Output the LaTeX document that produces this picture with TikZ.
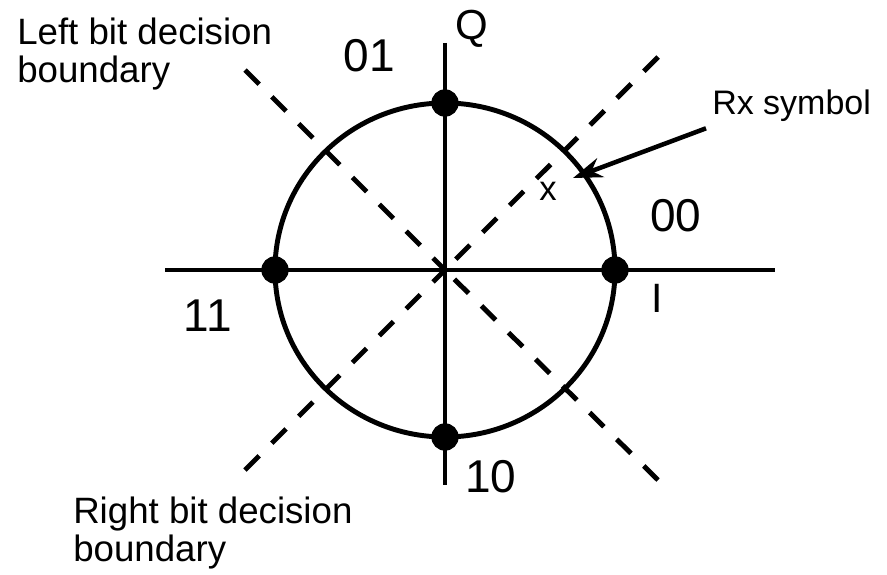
\documentclass[tikz,border=0pt]{standalone}
\usepackage{fontspec}
\setmainfont{Liberation Sans}
\usetikzlibrary{arrows.meta}
\begin{document}
\begin{tikzpicture}[x=0.75pt,y=-0.75pt,
  axis/.style={line width=3.7pt},
  bound/.style={line width=3.7pt, dash pattern=on 15pt off 13.5pt},
  dot/.style={circle, fill=black, inner sep=0pt, minimum size=20.5pt},
  lbl/.style={inner sep=0pt, font=\fontsize{34.5}{40}\selectfont},
  note/.style={inner sep=0pt, align=left, font=\fontsize{27.5}{28.5}\selectfont},
  arr/.style={line width=3.4pt, -{Stealth[length=22pt,width=15pt]}}]
\useasboundingbox (0,0) rectangle (887,574);
\coordinate (O) at (445,270);
\coordinate (Hl) at (165,270);
\coordinate (Hr) at (775,270);
\coordinate (Vt) at (445,43);
\coordinate (Vb) at (445,485);
\coordinate (TR) at (658,57);
\coordinate (TL) at (245,70);
\coordinate (BL) at (245,470);
\coordinate (BR) at (658,480);
% axes and circle
\draw[axis] (Hl) -- (Hr);
\draw[axis] (Vt) -- (Vb);
\draw[axis] (O) ellipse [x radius=127.5pt, y radius=125.25pt];
% decision boundaries
\draw[bound] (TR) -- (O);
\draw[bound] (TL) -- (O);
\draw[bound] (BL) -- (O);
\draw[bound] (BR) -- (O);
% constellation points
\node[dot] (p01) at (445,103) {};
\node[dot] (p10) at (445,437) {};
\node[dot] (p11) at (275,270) {};
\node[dot] (p00) at (615,270) {};
% labels
\node[lbl, anchor=base east] (l01) at (395,72) {01};
\node[lbl, anchor=base west] (l00) at (650,231) {00};
\node[lbl, anchor=base east] (l11) at (232,331) {11};
\node[lbl, anchor=base west] (l10) at (465,492) {10};
\node[inner sep=0pt, anchor=base west, font=\fontsize{31.5}{36}\selectfont] (Q) at (455,40) {Q};
\node[inner sep=0pt, anchor=base, font=\fontsize{30.75}{36}\selectfont] (I) at (657,312) {I};
\node[note, anchor=north west] (left) at (17,18) {Left bit decision\\boundary};
\node[note, anchor=north west] (right) at (73,497) {Right bit decision\\boundary};
% received symbol
\node[inner sep=0pt, anchor=base, font=\fontsize{26}{30}\selectfont] (x) at (548,200) {x};
\node[inner sep=4.5pt, anchor=base west, font=\fontsize{25.5}{30}\selectfont] (rx) at (706,115) {Rx symbol};
\coordinate (tip) at (573,178);
\draw[arr] (rx.south west) -- (tip);
\end{tikzpicture}
\end{document}
